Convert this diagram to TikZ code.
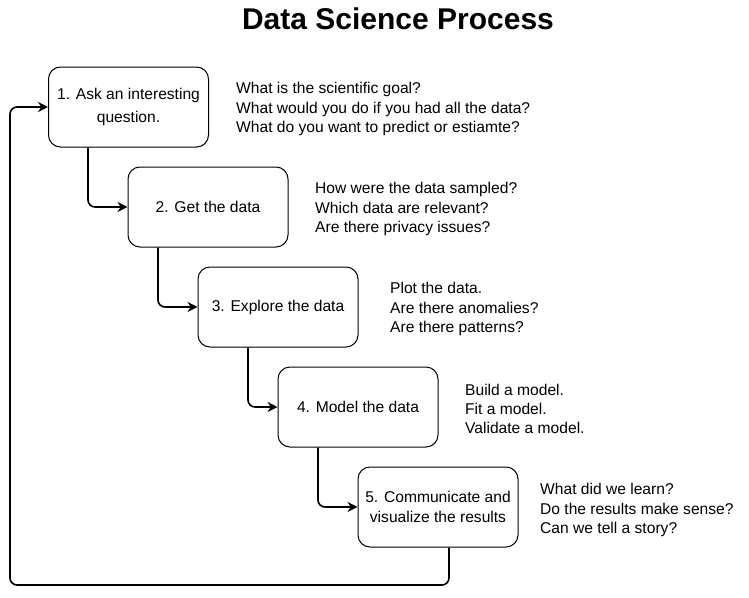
\documentclass[tikz,border=0pt]{standalone}
\usepackage{fontspec}
\setmainfont{Liberation Sans}
\usetikzlibrary{arrows.meta}
\begin{document}
\begin{tikzpicture}[x=1pt,y=-1pt,
  stepbox/.style={draw, line width=1pt, rounded corners=12pt, minimum width=160pt, minimum height=80pt, align=center, inner sep=2pt, font=\fontsize{15.6}{20}\selectfont},
  note/.style={anchor=west, align=left, inner sep=0pt, font=\fontsize{15.6}{19.3}\selectfont},
  flow/.style={draw, line width=1.6pt, rounded corners=7pt, -{Stealth[length=10pt,width=10pt]}}]
\useasboundingbox (0,0) rectangle (749,597);
\node[font=\fontsize{30}{34}\selectfont\bfseries] (title) at (398,19) {Data Science Process};
\node[stepbox, font=\fontsize{15.6}{23.5}\selectfont] (s1) at (128.5,107) {1. Ask an interesting\\question.};
\node[stepbox] (s2) at (208,207) {2. Get the data};
\node[stepbox] (s3) at (278,307) {3. Explore the data};
\node[stepbox] (s4) at (358,407) {4. Model the data};
\node[stepbox] (s5) at (438,507) {5. Communicate and\\visualize the results};
\node[note] (n1) at (236,109) {What is the scientific goal?\\What would you do if you had all the data?\\What do you want to predict or estiamte?};
\node[note] (n2) at (315,209) {How were the data sampled?\\Which data are relevant?\\Are there privacy issues?};
\node[note] (n3) at (390,309) {Plot the data.\\Are there anomalies?\\Are there patterns?};
\node[note] (n4) at (465,409) {Build a model.\\Fit a model.\\Validate a model.};
\node[note] (n5) at (540,510) {What did we learn?\\Do the results make sense?\\Can we tell a story?};
\draw[flow] (s1.south -| 88,0) |- (s2.west);
\draw[flow] (s2.south -| 158,0) |- (s3.west);
\draw[flow] (s3.south -| 248,0) |- (s4.west);
\draw[flow] (s4.south -| 318,0) |- (s5.west);
\coordinate (c1) at (449,585);
\coordinate (c2) at (10,585);
\draw[flow] (s5.south -| 449,0) -- (c1) -- (c2) |- (s1.west);
\end{tikzpicture}
\end{document}
